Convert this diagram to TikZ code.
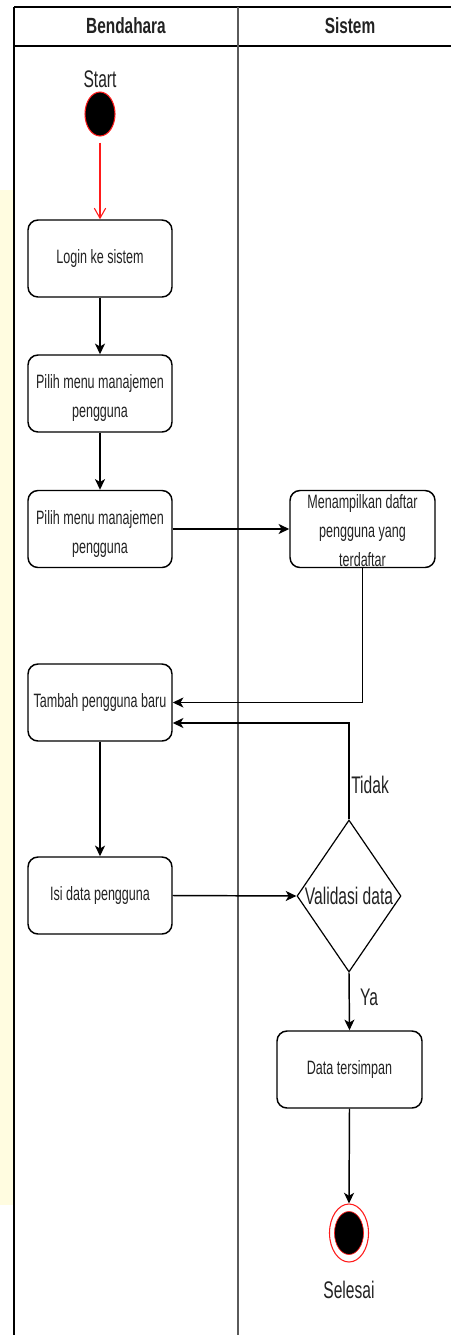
\documentclass[tikz,border=0pt]{standalone}
\usepackage{fontspec}
\setmainfont{Liberation Sans}[FakeStretch=0.65]
\newfontfamily\headfont{Liberation Sans}[FakeStretch=0.7]
\usetikzlibrary{shapes.geometric,arrows.meta,calc}
\definecolor{ink}{HTML}{222222}
\definecolor{lanegray}{HTML}{5A5A5A}
\definecolor{startred}{HTML}{FF1A1A}
\definecolor{paleyellow}{HTML}{FFFCE0}
\newcommand\boxfont{\fontsize{14.5}{21.75}\selectfont}
\newcommand\bigfont{\fontsize{18}{21}\selectfont}
\tikzset{
  act/.style={draw, rectangle, rounded corners=7.5pt, line width=1.1pt,
    minimum width=108pt, minimum height=57.75pt, inner sep=0pt,
    align=center, font=\boxfont, text=ink},
  acttext/.style={inner sep=0pt, align=center, font=\boxfont, text=ink, yshift=-3.5pt},
  flow/.style={draw, line width=1.1pt,
    -{Stealth[length=8pt,width=7.5pt,inset=2.2pt]}},
  lbl/.style={font=\bigfont, text=ink, inner sep=0pt},
  lane/.style={line width=1.5pt},
}
\begin{document}
\begin{tikzpicture}[x=0.75pt,y=-0.75pt]
\useasboundingbox (0,0) rectangle (451,1335);
% faint strip along the left margin
\fill[paleyellow] (0,190) rectangle (13,1205);

% swimlane frame
\draw[lane] (14,7) -- (451,7);
\draw[lane] (14,46) -- (451,46);
\draw[lane] (14,7) -- (14,1335);
\draw[lane, lanegray] (238,7) -- (238,1335);
\node[lbl, font=\headfont\fontsize{16.5}{20}\selectfont\bfseries] (hb) at (126,26) {Bendahara};
\node[lbl, font=\headfont\fontsize{16.5}{20}\selectfont\bfseries] (hs) at (350,26) {Sistem};

% start
\node[lbl] (startlbl) at (100,79) {Start};
\node[ellipse, draw=startred, fill=black, line width=0.8pt,
      minimum width=22.5pt, minimum height=33pt, inner sep=0pt] (start) at (100,114) {};

% activities
\node[act] (login) at (100,258.5) {Login ke sistem};
\node[act, label={[acttext]center:{Pilih menu manajemen\\pengguna}}] (menu1) at (100,393.5) {};
\node[act, label={[acttext]center:{Pilih menu manajemen\\pengguna}}] (menu2) at (100,529) {};
\node[act, minimum width=108.75pt,
      label={[acttext, yshift=2pt]center:{Menampilkan daftar\\pengguna yang\\terdaftar}}] (daftar) at (362.5,529) {};
\node[act] (tambah) at (100,702.5) {Tambah pengguna baru};
\node[act] (isi) at (100,895.5) {Isi data pengguna};
\node[diamond, draw, line width=0.9pt, minimum width=78pt, minimum height=114pt,
      inner sep=0pt, label={[lbl]center:Validasi data}] (valid) at (349,896) {};
\node[act, minimum width=108.75pt] (simpan) at (349.5,1069.5) {Data tersimpan};

% end
\node[ellipse, draw=startred, fill=white, line width=0.8pt,
      minimum width=29.25pt, minimum height=43.5pt, inner sep=0pt] (end) at (349,1233) {};
\node[ellipse, draw=startred, fill=black, line width=0.5pt,
      minimum width=21.75pt, minimum height=32.25pt, inner sep=0pt] (endcore) at (end.center) {};
\node[lbl] (endlbl) at (349,1290) {Selesai};

% connectors
\draw[startred, line width=0.8pt, shorten <=4.5pt,
      -{Straight Barb[length=7.5pt,width=8.5pt]}] (start.south) -- (login.north);
\draw[flow] (login.south) -- (menu1.north);
\draw[flow] (menu1.south) -- (menu2.north);
\draw[flow] (menu2.east) -- (daftar.west);
\draw[flow] (daftar.south) |- (tambah.east);
\draw[flow] (tambah.south) -- (isi.north);
\draw[flow] (isi.east) -- (valid.west);
\coordinate (back) at ($(tambah.east)+(0,20.5)$);
\draw[flow] (valid.north) |- (back);
\node[lbl, anchor=west] (tidak) at (351,785) {Tidak};
\draw[flow] (valid.south) -- (simpan.north);
\node[lbl] (ya) at (369,997) {Ya};
\draw[flow] (simpan.south) -- (end.north);
\end{tikzpicture}
\end{document}
